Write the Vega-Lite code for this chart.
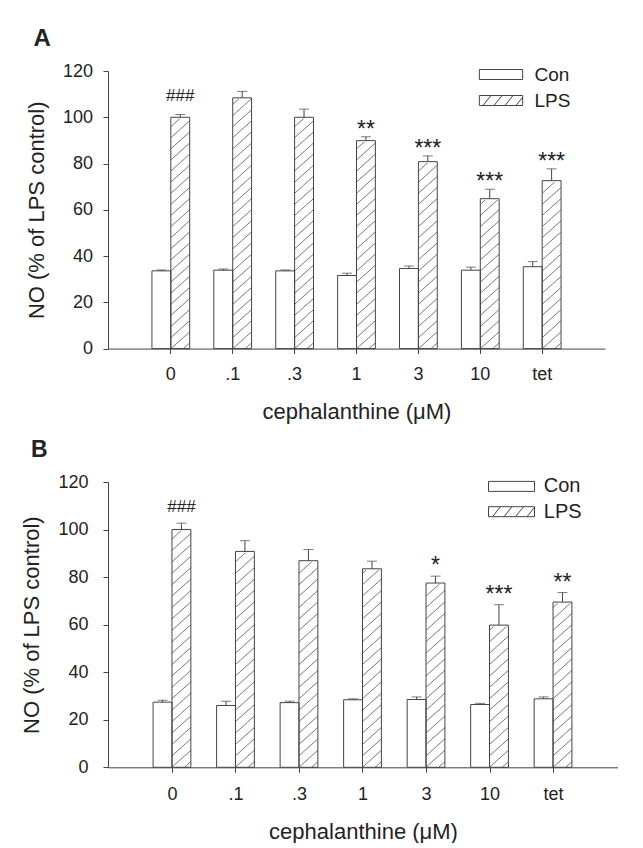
{
  "$schema": "https://vega.github.io/schema/vega-lite/v6.json",
  "background": "white",
  "padding": {"left": 20, "top": 27, "right": 0, "bottom": 0},
  "columns": 1,
  "align": "none",
  "spacing": 16,
  "resolve": {"scale": {"fill": "independent"}, "legend": {"fill": "independent"}},
  "config": {
    "font": "Liberation Sans",
    "view": {"stroke": null},
    "axis": {
      "grid": false,
      "domainColor": "#444",
      "tickColor": "#444",
      "labelColor": "#222",
      "titleColor": "#222",
      "labelFont": "Liberation Sans",
      "titleFont": "Liberation Sans",
      "titleFontWeight": "normal",
      "tickSize": 5,
      "labelFontSize": 18,
      "titleFontSize": 22,
      "domainWidth": 1,
      "tickWidth": 1
    },
    "legend": {"labelFont": "Liberation Sans"}
  },
  "datasets": {
    "A": [
      {"dose": "0", "cond": "Con", "value": 33.6, "hi": 34.0, "sig": ""},
      {"dose": "0", "cond": "LPS", "value": 100.0, "hi": 101.2, "sig": "###"},
      {"dose": ".1", "cond": "Con", "value": 33.9, "hi": 34.4, "sig": ""},
      {"dose": ".1", "cond": "LPS", "value": 108.4, "hi": 111.2, "sig": ""},
      {"dose": ".3", "cond": "Con", "value": 33.6, "hi": 34.0, "sig": ""},
      {"dose": ".3", "cond": "LPS", "value": 100.0, "hi": 103.5, "sig": ""},
      {"dose": "1", "cond": "Con", "value": 31.6, "hi": 32.6, "sig": ""},
      {"dose": "1", "cond": "LPS", "value": 89.9, "hi": 91.6, "sig": "**"},
      {"dose": "3", "cond": "Con", "value": 34.6, "hi": 35.7, "sig": ""},
      {"dose": "3", "cond": "LPS", "value": 80.8, "hi": 83.3, "sig": "***"},
      {"dose": "10", "cond": "Con", "value": 33.9, "hi": 35.2, "sig": ""},
      {"dose": "10", "cond": "LPS", "value": 64.8, "hi": 68.9, "sig": "***"},
      {"dose": "tet", "cond": "Con", "value": 35.4, "hi": 37.6, "sig": ""},
      {"dose": "tet", "cond": "LPS", "value": 72.6, "hi": 77.7, "sig": "***"}
    ],
    "B": [
      {"dose": "0", "cond": "Con", "value": 27.4, "hi": 28.2, "sig": ""},
      {"dose": "0", "cond": "LPS", "value": 100.0, "hi": 102.7, "sig": "###"},
      {"dose": ".1", "cond": "Con", "value": 26.0, "hi": 27.8, "sig": ""},
      {"dose": ".1", "cond": "LPS", "value": 90.8, "hi": 95.3, "sig": ""},
      {"dose": ".3", "cond": "Con", "value": 27.2, "hi": 27.8, "sig": ""},
      {"dose": ".3", "cond": "LPS", "value": 86.9, "hi": 91.6, "sig": ""},
      {"dose": "1", "cond": "Con", "value": 28.4, "hi": 28.8, "sig": ""},
      {"dose": "1", "cond": "LPS", "value": 83.5, "hi": 86.7, "sig": ""},
      {"dose": "3", "cond": "Con", "value": 28.5, "hi": 29.6, "sig": ""},
      {"dose": "3", "cond": "LPS", "value": 77.5, "hi": 80.4, "sig": "*"},
      {"dose": "10", "cond": "Con", "value": 26.4, "hi": 26.9, "sig": ""},
      {"dose": "10", "cond": "LPS", "value": 59.8, "hi": 68.4, "sig": "***"},
      {"dose": "tet", "cond": "Con", "value": 28.8, "hi": 29.6, "sig": ""},
      {"dose": "tet", "cond": "LPS", "value": 69.5, "hi": 73.5, "sig": "**"}
    ]
  },
  "concat": [
    {
      "title": {"text": "A", "anchor": "start", "frame": "bounds", "fontSize": 24, "fontWeight": "bold", "color": "#222", "dx": 8, "offset": 11},
      "width": 497,
      "height": 277.6,
      "data": {"name": "A"},
      "encoding": {
        "x": {"field": "dose", "type": "nominal", "sort": ["0", ".1", ".3", "1", "3", "10", "tet"], "scale": {"paddingInner": 0.39, "paddingOuter": 0.71}, "axis": {"title": "cephalanthine (μM)", "labelAngle": 0, "labelPadding": 12, "titlePadding": 18}},
        "xOffset": {"field": "cond", "type": "nominal", "sort": ["Con", "LPS"], "scale": {"paddingInner": 0, "paddingOuter": 0}}
      },
      "layer": [
        {
          "transform": [{"filter": "datum.cond === 'LPS'"}],
          "mark": {"type": "point", "filled": false, "opacity": 1, "color": "#555", "strokeWidth": 0.8, "size": 77062, "shape": "M0.022,1L0.067,0.96M-0.067,1L0.067,0.88M-0.067,0.92L0.067,0.8M-0.067,0.84L0.067,0.72M-0.067,0.76L0.067,0.64M-0.067,0.68L0.067,0.56M-0.067,0.6L0.067,0.48M-0.067,0.52L0.067,0.4M-0.067,0.44L0.067,0.32M-0.067,0.36L0.067,0.24M-0.067,0.28L0.067,0.16M-0.067,0.2L0.067,0.08M-0.067,0.12L0.067,0M-0.067,0.04L0.067,-0.08M-0.067,-0.04L0.067,-0.16M-0.067,-0.12L0.067,-0.24M-0.067,-0.2L0.067,-0.32M-0.067,-0.28L0.067,-0.4M-0.067,-0.36L0.067,-0.48M-0.067,-0.44L0.067,-0.56M-0.067,-0.52L0.067,-0.64M-0.067,-0.6L0.067,-0.72M-0.067,-0.68L0.067,-0.8M-0.067,-0.76L0.067,-0.88M-0.067,-0.84L0.067,-0.96"},
          "encoding": {"y": {"datum": 60, "type": "quantitative", "scale": {"domain": [0, 120]}, "title": "NO (% of LPS control)"}}
        },
        {
          "transform": [{"filter": "datum.cond === 'LPS'"}],
          "mark": {"type": "bar", "fill": "white", "stroke": "white", "strokeWidth": 2.5},
          "encoding": {"y": {"field": "value", "type": "quantitative", "scale": {"domain": [0, 120]}, "title": "NO (% of LPS control)"}, "y2": {"datum": 120}}
        },
        {
          "mark": {"type": "bar", "stroke": "#444", "strokeWidth": 1},
          "encoding": {
            "y": {"field": "value", "type": "quantitative", "scale": {"domain": [0, 120]}, "title": "NO (% of LPS control)", "axis": {"values": [0, 20, 40, 60, 80, 100, 120], "labelPadding": 10.5, "titlePadding": 14}},
            "fill": {"field": "cond", "type": "nominal", "sort": ["Con", "LPS"], "scale": {"range": ["white", "transparent"]},
              "legend": {"title": null, "orient": "none", "legendX": 383.5, "legendY": -6, "padding": 0, "labelFontSize": 19, "labelColor": "#222", "labelOffset": 24, "rowPadding": 6, "symbolSize": 100, "symbolStrokeColor": "#444", "symbolStrokeWidth": 1, "symbolOpacity": 1,
                "encode": {"symbols": {"update": {"shape": {"signal": "datum.value === 'LPS' ? 'M-4.33,-1H4.33V1H-4.33ZM-3.6,1L-2,-1M-1.4,1L0.2,-1M0.8,1L2.4,-1M3,1L4.33,-0.66' : 'M-4.33,-1H4.33V1H-4.33Z'"}}}}}}
          }
        },
        {
          "mark": {"type": "rule", "color": "#444", "strokeWidth": 1},
          "encoding": {"y": {"field": "value", "type": "quantitative", "scale": {"domain": [0, 120]}, "title": "NO (% of LPS control)"}, "y2": {"field": "hi"}}
        },
        {
          "mark": {"type": "tick", "color": "#444", "size": 10, "thickness": 1},
          "encoding": {"y": {"field": "hi", "type": "quantitative", "scale": {"domain": [0, 120]}, "title": "NO (% of LPS control)"}}
        },
        {
          "transform": [{"filter": "datum.sig !== '' && datum.sig !== '###'"}],
          "mark": {"type": "text", "fontSize": 23, "baseline": "alphabetic", "dy": 0, "color": "#222"},
          "encoding": {"y": {"field": "hi", "type": "quantitative", "scale": {"domain": [0, 120]}, "title": "NO (% of LPS control)"}, "text": {"field": "sig"}}
        },
        {
          "transform": [{"filter": "datum.sig === '###'"}],
          "mark": {"type": "text", "fontSize": 17, "baseline": "alphabetic", "dy": -13.5, "color": "#222"},
          "encoding": {"y": {"field": "hi", "type": "quantitative", "scale": {"domain": [0, 120]}, "title": "NO (% of LPS control)"}, "text": {"field": "sig"}}
        }
      ]
    },
    {
      "title": {"text": "B", "anchor": "start", "frame": "bounds", "fontSize": 23, "fontWeight": "bold", "color": "#222", "dx": 10, "offset": 11},
      "width": 510,
      "height": 285.3,
      "data": {"name": "B"},
      "encoding": {
        "x": {"field": "dose", "type": "nominal", "sort": ["0", ".1", ".3", "1", "3", "10", "tet"], "scale": {"paddingInner": 0.39, "paddingOuter": 0.71}, "axis": {"title": "cephalanthine (μM)", "labelAngle": 0, "labelPadding": 13, "titlePadding": 18}},
        "xOffset": {"field": "cond", "type": "nominal", "sort": ["Con", "LPS"], "scale": {"paddingInner": 0, "paddingOuter": 0}}
      },
      "layer": [
        {
          "transform": [{"filter": "datum.cond === 'LPS'"}],
          "mark": {"type": "point", "filled": false, "opacity": 1, "color": "#555", "strokeWidth": 0.8, "size": 81396, "shape": "M0.022,1L0.067,0.96M-0.067,1L0.067,0.88M-0.067,0.92L0.067,0.8M-0.067,0.84L0.067,0.72M-0.067,0.76L0.067,0.64M-0.067,0.68L0.067,0.56M-0.067,0.6L0.067,0.48M-0.067,0.52L0.067,0.4M-0.067,0.44L0.067,0.32M-0.067,0.36L0.067,0.24M-0.067,0.28L0.067,0.16M-0.067,0.2L0.067,0.08M-0.067,0.12L0.067,0M-0.067,0.04L0.067,-0.08M-0.067,-0.04L0.067,-0.16M-0.067,-0.12L0.067,-0.24M-0.067,-0.2L0.067,-0.32M-0.067,-0.28L0.067,-0.4M-0.067,-0.36L0.067,-0.48M-0.067,-0.44L0.067,-0.56M-0.067,-0.52L0.067,-0.64M-0.067,-0.6L0.067,-0.72M-0.067,-0.68L0.067,-0.8M-0.067,-0.76L0.067,-0.88M-0.067,-0.84L0.067,-0.96"},
          "encoding": {"y": {"datum": 60, "type": "quantitative", "scale": {"domain": [0, 120]}, "title": "NO (% of LPS control)"}}
        },
        {
          "transform": [{"filter": "datum.cond === 'LPS'"}],
          "mark": {"type": "bar", "fill": "white", "stroke": "white", "strokeWidth": 2.5},
          "encoding": {"y": {"field": "value", "type": "quantitative", "scale": {"domain": [0, 120]}, "title": "NO (% of LPS control)"}, "y2": {"datum": 120}}
        },
        {
          "mark": {"type": "bar", "stroke": "#444", "strokeWidth": 1},
          "encoding": {
            "y": {"field": "value", "type": "quantitative", "scale": {"domain": [0, 120]}, "title": "NO (% of LPS control)", "axis": {"values": [0, 20, 40, 60, 80, 100, 120], "labelPadding": 15, "titlePadding": 14}},
            "fill": {"field": "cond", "type": "nominal", "sort": ["Con", "LPS"], "scale": {"range": ["white", "transparent"]},
              "legend": {"title": null, "orient": "none", "legendX": 393.5, "legendY": -5.6, "padding": 0, "labelFontSize": 20, "labelColor": "#222", "labelOffset": 22.3, "rowPadding": 5.3, "symbolSize": 100, "symbolStrokeColor": "#444", "symbolStrokeWidth": 1, "symbolOpacity": 1,
                "encode": {"symbols": {"update": {"shape": {"signal": "datum.value === 'LPS' ? 'M-4.6,-1H4.6V1H-4.6ZM-3.8,1L-2.2,-1M-1.5,1L0.1,-1M0.8,1L2.4,-1M3.1,1L4.6,-0.875' : 'M-4.6,-1H4.6V1H-4.6Z'"}}}}}}
          }
        },
        {
          "mark": {"type": "rule", "color": "#444", "strokeWidth": 1},
          "encoding": {"y": {"field": "value", "type": "quantitative", "scale": {"domain": [0, 120]}, "title": "NO (% of LPS control)"}, "y2": {"field": "hi"}}
        },
        {
          "mark": {"type": "tick", "color": "#444", "size": 10, "thickness": 1},
          "encoding": {"y": {"field": "hi", "type": "quantitative", "scale": {"domain": [0, 120]}, "title": "NO (% of LPS control)"}}
        },
        {
          "transform": [{"filter": "datum.sig !== '' && datum.sig !== '###'"}],
          "mark": {"type": "text", "fontSize": 23, "baseline": "alphabetic", "dy": -3, "color": "#222"},
          "encoding": {"y": {"field": "hi", "type": "quantitative", "scale": {"domain": [0, 120]}, "title": "NO (% of LPS control)"}, "text": {"field": "sig"}}
        },
        {
          "transform": [{"filter": "datum.sig === '###'"}],
          "mark": {"type": "text", "fontSize": 17, "baseline": "alphabetic", "dy": -10.8, "color": "#222"},
          "encoding": {"y": {"field": "hi", "type": "quantitative", "scale": {"domain": [0, 120]}, "title": "NO (% of LPS control)"}, "text": {"field": "sig"}}
        }
      ]
    }
  ]
}
